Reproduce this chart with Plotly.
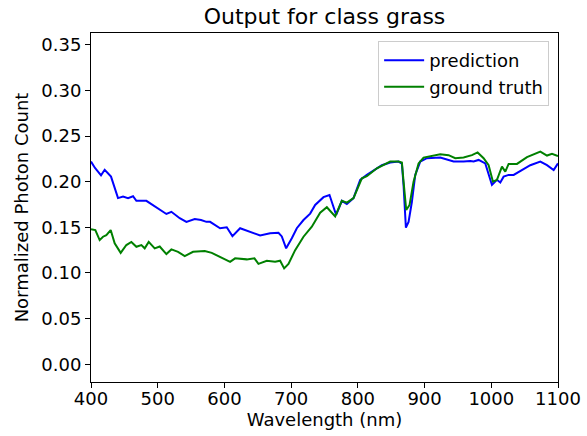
import plotly.graph_objects as go

pred_wl = [400, 406, 415, 420.5, 430, 440.5, 448, 455.5, 463, 468, 483, 495.5, 513, 520.5, 533, 543,
           555.5, 565, 573, 578.5, 593.5, 603.5, 612, 623.5, 638.5, 653.5, 668.5, 681, 686, 692.5, 701,
           708.5, 718.5, 728.5, 736, 748.5, 757.5, 767.5, 776, 783.5, 793.5, 803.5, 813.5, 823.5, 836,
           848.5, 861, 866, 868.5, 872, 876, 881, 886, 893.5, 903.5, 923.5, 936, 943.5, 958.5, 968.5,
           973.5, 981, 991, 997.5, 1001, 1008.5, 1013.5, 1018.5, 1026, 1033.5, 1048.5, 1058.5, 1073.5,
           1083.5, 1093.5, 1100]
pred_val = [0.222, 0.215, 0.207, 0.213, 0.2055, 0.182, 0.1836, 0.182, 0.184, 0.179, 0.179, 0.1726,
            0.1646, 0.167, 0.160, 0.156, 0.159, 0.158, 0.156, 0.156, 0.149, 0.150, 0.1404, 0.149, 0.145,
            0.141, 0.1434, 0.144, 0.140, 0.127, 0.138, 0.149, 0.158, 0.165, 0.1745, 0.183, 0.1854, 0.1635,
            0.179, 0.1756, 0.182, 0.2019, 0.2074, 0.212, 0.218, 0.221, 0.222, 0.2197, 0.196, 0.1496, 0.156,
            0.178, 0.2074, 0.222, 0.2257, 0.2264, 0.2238, 0.222, 0.222, 0.2227, 0.222, 0.2238, 0.220,
            0.2055, 0.1964, 0.202, 0.199, 0.2055, 0.2074, 0.2074, 0.2136, 0.218, 0.222, 0.218, 0.2128, 0.220]

truth_wl = [400, 406.5, 413, 418, 423, 429.5, 435.5, 444.5, 453, 460.5, 468, 475.5, 480.5, 486.5, 495.5,
            503, 513, 520.5, 530.5, 540.5, 553, 570.5, 581, 593.5, 608.5, 616, 633.5, 645, 651, 663.5, 676,
            683.5, 689.5, 696, 706, 718.5, 731, 743.5, 753.5, 766, 776, 783.5, 793.5, 806, 813.5, 828.5,
            838.5, 848.5, 861, 866, 868.5, 872.5, 877.5, 883.5, 891, 898.5, 923.5, 936, 946, 958.5, 971,
            979.5, 988.5, 996, 1002.5, 1008.5, 1016, 1021, 1026, 1038.5, 1053.5, 1073.5, 1083.5, 1091, 1100]
truth_val = [0.148, 0.147, 0.136, 0.1397, 0.1415, 0.147, 0.1324, 0.122, 0.1306, 0.134, 0.1287, 0.1306,
             0.127, 0.134, 0.127, 0.129, 0.1207, 0.1258, 0.1232, 0.1185, 0.1232, 0.124, 0.122, 0.1177,
             0.1122, 0.116, 0.1149, 0.116, 0.110, 0.1134, 0.1122, 0.1134, 0.105, 0.110, 0.125, 0.1397,
             0.1507, 0.166, 0.172, 0.162, 0.179, 0.177, 0.182, 0.2037, 0.206, 0.2147, 0.218, 0.222, 0.222,
             0.221, 0.200, 0.169, 0.1745, 0.200, 0.220, 0.2264, 0.230, 0.229, 0.2257, 0.2264, 0.229, 0.232,
             0.2257, 0.218, 0.200, 0.202, 0.2165, 0.211, 0.2194, 0.2194, 0.2268, 0.233, 0.2286, 0.2304, 0.228]

x_ticks = [400, 500, 600, 700, 800, 900, 1000, 1100]
y_ticks = [0.00, 0.05, 0.10, 0.15, 0.20, 0.25, 0.30, 0.35]

FONT = "DejaVu Sans"

fig = go.Figure()
fig.add_trace(go.Scatter(x=pred_wl, y=pred_val, mode="lines", name="prediction",
                         line=dict(color="#0000ff", width=2)))
fig.add_trace(go.Scatter(x=truth_wl, y=truth_val, mode="lines", name="ground truth",
                         line=dict(color="#008000", width=2)))

axis_common = dict(showline=True, mirror=True, linecolor="black", linewidth=1,
                   ticks="outside", ticklen=5, tickwidth=1, tickcolor="black",
                   showgrid=False, zeroline=False, automargin=False,
                   tickfont=dict(family=FONT, size=18, color="black"))

fig.update_layout(
    width=587, height=436,
    margin=dict(l=91, r=29, t=33, b=54),
    paper_bgcolor="white", plot_bgcolor="white",
    font=dict(family=FONT, size=18, color="black"),
    title=dict(text="Output for class grass", xref="paper", x=0.5, xanchor="center",
               y=0.962, yanchor="middle",
               font=dict(family=FONT, size=22, color="black")),
    legend=dict(x=0.981, y=0.977, xanchor="right", yanchor="top", itemwidth=40,
                bgcolor="rgba(255,255,255,0.8)", bordercolor="#cccccc", borderwidth=1,
                font=dict(family=FONT, size=18, color="black")),
    showlegend=True,
)
fig.update_xaxes(range=[400, 1100], tickvals=x_ticks, ticktext=[str(v) for v in x_ticks],
                 ticklabelstandoff=-5,
                 title=dict(text="Wavelength (nm)", font=dict(family=FONT, size=18), standoff=0),
                 **axis_common)
fig.update_yaxes(range=[-0.0194, 0.3628], tickvals=y_ticks, ticktext=[f"{v:.2f}" for v in y_ticks],
                 title=dict(text="Normalized Photon Count", font=dict(family=FONT, size=18), standoff=8),
                 **axis_common)

fig.write_html("out.html")
